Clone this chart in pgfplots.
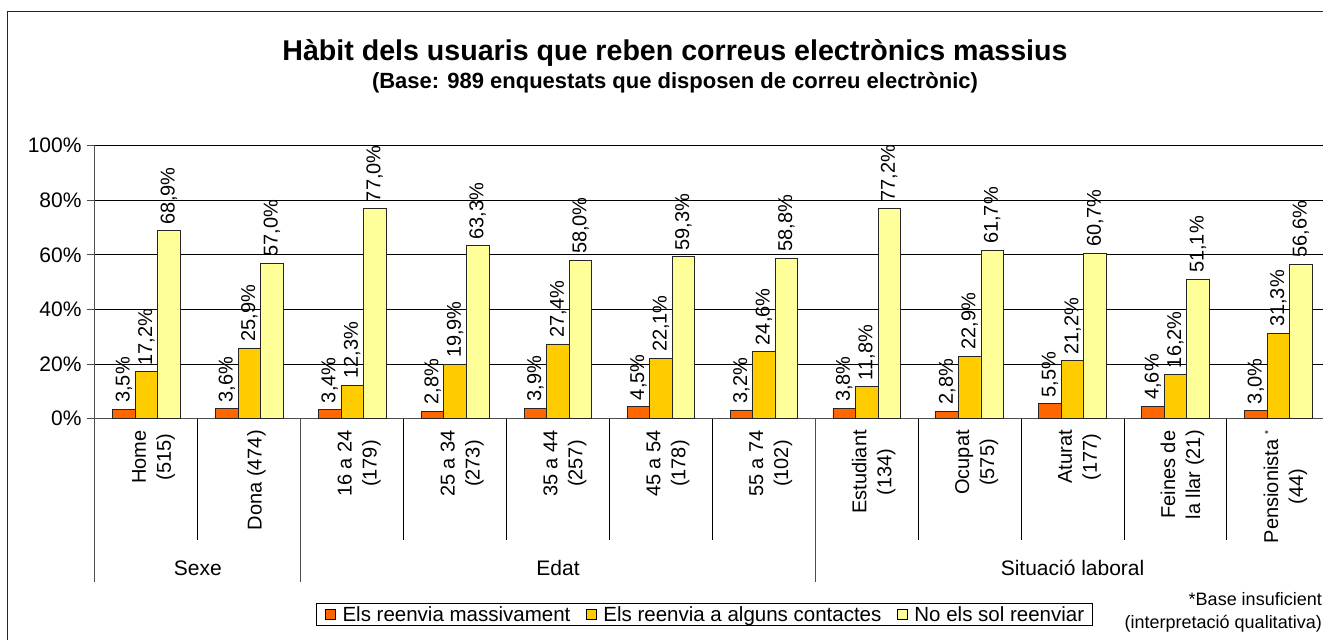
\documentclass[border=0pt]{standalone}
\usepackage{fontspec}
\setmainfont{Liberation Sans}
\usepackage{pgfplots}
\pgfplotsset{compat=1.18}
\definecolor{c1}{HTML}{FF6600}
\definecolor{c2}{HTML}{FFCC00}
\definecolor{c3}{HTML}{FFFF99}
\newcommand{\fs}[1]{\fontsize{#1}{#1}\selectfont}
\pgfplotsset{legsq/.style={legend image code/.code={\path[draw=none,fill=none] (0pt,-1pt) rectangle (18pt,1pt);\draw[##1,draw=black,line width=0.8pt] (3pt,-5pt) rectangle (13pt,5pt);}}}
\begin{document}
\begin{tikzpicture}[x=1pt,y=1pt]
\useasboundingbox (0,0) rectangle (1323,-640);
\clip (0,0) rectangle (1323,-640);
\fill[white] (0,0) rectangle (1323,-640);
\draw[line width=1.3pt, black!85] (7.5,-11.7) rectangle (1345,-665);
\node[font=\bfseries\fs{28.6}, anchor=base, inner sep=0pt] at (675,-60) {Hàbit dels usuaris que reben correus electrònics massius};
\node[font=\bfseries\fs{22}, anchor=base, inner sep=0pt] at (675,-88) {(Base: 989 enquestats que disposen de correu electrònic)};
\begin{axis}[
  at={(95pt,-418.7pt)}, anchor=south west,
  scale only axis, width=1234.8pt, height=273pt,
  xmin=-0.5, xmax=11.5, ymin=0, ymax=100,
  clip=false,
  axis lines*=left,
  axis line style={black!70, line width=1pt},
  ymajorgrids, grid style={black, line width=0.9pt},
  ytick={0,20,40,60,80,100},
  yticklabels={0\%,20\%,40\%,60\%,80\%,100\%},
  yticklabel style={font=\fs{21}, xshift=-2pt},
  ytick style={black!70, line width=1pt},
  tick align=outside, major tick length=8pt,
  xtick={0,...,11},
  xticklabels={{Home\\(515)},{Dona (474)},{16 a 24\\(179)},{25 a 34\\(273)},{35 a 44\\(257)},{45 a 54\\(178)},{55 a 74\\(102)},{Estudiant\\(134)},{Ocupat\\(575)},{Aturat\\(177)},{Feines de\\la llar (21)},{Pensionista \raisebox{0.6ex}{\fs{10}*}\\(44)}},
  x tick style={draw=none},
  xticklabel style={rotate=90, anchor=east, align=center, font=\fontsize{20}{25}\selectfont, yshift=-7pt},
  ybar=0pt, bar width=0.219,
  nodes near coords={\pgfmathprintnumber[fixed,fixed zerofill,precision=1,use comma,assume math mode=true]{\pgfplotspointmeta}\%},
  every node near coord/.append style={rotate=90, anchor=west, font=\fs{20}, inner xsep=6pt, black},
  legend style={at={(0.4935,-0.717)}, anchor=center, draw=black, line width=1pt, font=\fs{20.5}, inner xsep=6pt, inner ysep=1pt, /tikz/every even column/.append style={column sep=11pt}},
  legend columns=3, legend cell align=left,
]
\addplot[fill=c1, draw=black!85, line width=0.8pt, bar shift=-0.219, legsq] coordinates {(0,3.5)(1,3.6)(2,3.4)(3,2.8)(4,3.9)(5,4.5)(6,3.2)(7,3.8)(8,2.8)(9,5.5)(10,4.6)(11,3.0)};
\addplot[fill=c2, draw=black!85, line width=0.8pt, bar shift=0, legsq] coordinates {(0,17.2)(1,25.9)(2,12.3)(3,19.9)(4,27.4)(5,22.1)(6,24.6)(7,11.8)(8,22.9)(9,21.2)(10,16.2)(11,31.3)};
\addplot[fill=c3, draw=black!85, line width=0.8pt, bar shift=0.219, legsq] coordinates {(0,68.9)(1,57.0)(2,77.0)(3,63.3)(4,58.0)(5,59.3)(6,58.8)(7,77.2)(8,61.7)(9,60.7)(10,51.1)(11,56.6)};
\legend{Els reenvia massivament,Els reenvia a alguns contactes,No els sol reenviar}
\pgfplotsinvokeforeach{0.5,2.5,3.5,4.5,5.5,7.5,8.5,9.5,10.5}{\draw[black, line width=0.9pt] (axis cs:#1,0) -- ++(0pt,-121.3pt);}
\pgfplotsinvokeforeach{-0.5,1.5,6.5}{\draw[black!70, line width=1pt] (axis cs:#1,0) -- ++(0pt,-163pt);}
\node[anchor=base, font=\fs{21}] at ([yshift=-156.3pt]axis cs:0.5,0) {Sexe};
\node[anchor=base, font=\fs{21}] at ([yshift=-156.3pt]axis cs:4,0) {Edat};
\node[anchor=base, font=\fs{21}] at ([yshift=-156.3pt]axis cs:9,0) {Situació laboral};
\end{axis}
\node[anchor=base east, font=\fs{18}, inner sep=0pt] at (1322,-605) {*Base insuficient};
\node[anchor=base east, font=\fs{18}, inner sep=0pt] at (1322,-628) {(interpretació qualitativa)};
\end{tikzpicture}
\end{document}
